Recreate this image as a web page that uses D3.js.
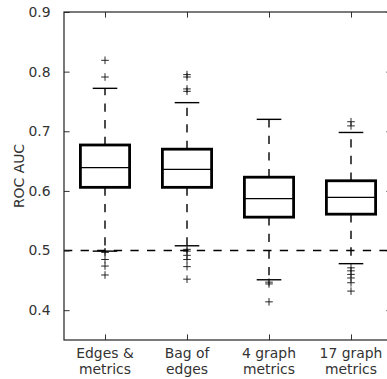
<!DOCTYPE html>
<html>
    <head>
        <meta charset="utf-8">
        <title> ROC AUC boxplot </title>
        <script src="https://d3js.org/d3.v7.min.js"></script>
        <style>
            body { margin: 0; background: #fff; }
            text { font-family: "DejaVu Sans", sans-serif; fill: #333; }
        </style>
    </head>

    <body>
        <div id="stage"></div>

        <script>
            // values
            var categories = [["Edges &", "metrics"], ["Bag of", "edges"], ["4 graph", "metrics"], ["17 graph", "metrics"]];
            var q1 = [0.606, 0.606, 0.556, 0.561];
            var median = [0.639, 0.636, 0.587, 0.589];
            var q3 = [0.677, 0.670, 0.623, 0.617];
            var whiskerLow = [0.499, 0.508, 0.451, 0.478];
            var whiskerHigh = [0.772, 0.748, 0.720, 0.698];
            var outliers = [
                [0.819, 0.791, 0.498, 0.497, 0.485, 0.474, 0.459],
                [0.795, 0.791, 0.771, 0.767, 0.502, 0.499, 0.492, 0.485, 0.473, 0.452],
                [0.447, 0.444, 0.414],
                [0.716, 0.709, 0.471, 0.466, 0.460, 0.454, 0.446, 0.432]
            ];
            var yTicks = [0.4, 0.5, 0.6, 0.7, 0.8, 0.9];
            var chanceLevel = 0.5;

            var width = 387, height = 379;
            // plot frame edges (right edge falls just outside the picture)
            var plotL = 64, plotR = 392, plotT = 12, plotB = 340;

            var svg = d3.select("#stage")
                .append("svg")
                    .attr("width", width)
                    .attr("height", height);

            var x = d3.scaleLinear().domain([0.5, 4.5]).range([plotL, plotR]);
            var y = d3.scaleLinear().domain([0.35, 0.9]).range([plotB, plotT]);
            var halfBox = 0.3, halfCap = 0.15;
            var dash = "8.3,8.3";

            var idx = d3.range(categories.length);

            var g = svg.append("g");
            idx.forEach(function(i) {
                var cx = x(i + 1);
                // whiskers (dashed, starting at the box edge)
                g.append("line")
                    .attr("x1", cx).attr("x2", cx)
                    .attr("y1", y(q3[i])).attr("y2", y(whiskerHigh[i]))
                    .attr("stroke", "#000").attr("stroke-width", 1.4)
                    .attr("stroke-dasharray", dash);
                g.append("line")
                    .attr("x1", cx).attr("x2", cx)
                    .attr("y1", y(q1[i])).attr("y2", y(whiskerLow[i]))
                    .attr("stroke", "#000").attr("stroke-width", 1.4)
                    .attr("stroke-dasharray", dash);
                // caps
                [whiskerLow[i], whiskerHigh[i]].forEach(function(v) {
                    g.append("line")
                        .attr("x1", x(i + 1 - halfCap)).attr("x2", x(i + 1 + halfCap))
                        .attr("y1", y(v)).attr("y2", y(v))
                        .attr("stroke", "#000").attr("stroke-width", 1.4);
                });
                // box
                g.append("rect")
                    .attr("x", x(i + 1 - halfBox))
                    .attr("y", y(q3[i]))
                    .attr("width", x(i + 1 + halfBox) - x(i + 1 - halfBox))
                    .attr("height", y(q1[i]) - y(q3[i]))
                    .attr("fill", "none")
                    .attr("stroke", "#000").attr("stroke-width", 2.8);
                // median
                g.append("line")
                    .attr("x1", x(i + 1 - halfBox)).attr("x2", x(i + 1 + halfBox))
                    .attr("y1", y(median[i])).attr("y2", y(median[i]))
                    .attr("stroke", "#000").attr("stroke-width", 1.3);
                // fliers as '+'
                outliers[i].forEach(function(v) {
                    g.append("path")
                        .attr("d", "M" + (cx - 3.8) + "," + y(v) + "H" + (cx + 3.8) +
                                   "M" + cx + "," + (y(v) - 3.8) + "V" + (y(v) + 3.8))
                        .attr("stroke", "#111").attr("stroke-width", 0.9);
                });
            });

            // chance line
            svg.append("line")
                .attr("x1", x(0.5)).attr("x2", x(4.5))
                .attr("y1", y(chanceLevel)).attr("y2", y(chanceLevel))
                .attr("stroke", "#000").attr("stroke-width", 1.4)
                .attr("stroke-dasharray", dash);

            // axes, ticks pointing inward on all four sides
            var tickLen = 5.6;
            var yAxis = svg.append("g")
                .attr("transform", "translate(" + plotL + ",0)")
                .call(d3.axisLeft(y).tickValues(yTicks).tickFormat(d3.format(".1f"))
                    .tickSize(-tickLen).tickPadding(13.5));
            yAxis.selectAll("text").style("font-size", "13.9px");

            svg.append("g")
                .attr("transform", "translate(" + plotR + ",0)")
                .call(d3.axisRight(y).tickValues(yTicks).tickFormat("").tickSize(-tickLen));

            svg.append("g")
                .attr("transform", "translate(0," + plotB + ")")
                .call(d3.axisBottom(x).tickValues([1, 2, 3, 4]).tickFormat("").tickSize(-tickLen));

            svg.append("g")
                .attr("transform", "translate(0," + plotT + ")")
                .call(d3.axisTop(x).tickValues([1, 2, 3, 4]).tickFormat("").tickSize(-tickLen));

            svg.selectAll(".domain").remove();
            svg.selectAll(".tick line").attr("stroke", "#333").attr("stroke-width", 1);

            // frame
            svg.append("rect")
                .attr("x", plotL).attr("y", plotT)
                .attr("width", plotR - plotL).attr("height", plotB - plotT)
                .attr("fill", "none").attr("stroke", "#222").attr("stroke-width", 1.2);

            // two-line category labels
            var labels = svg.append("g");
            idx.forEach(function(i) {
                var t = labels.append("text")
                    .attr("text-anchor", "middle")
                    .style("font-size", "13.9px");
                categories[i].forEach(function(line, k) {
                    t.append("tspan")
                        .attr("x", x(i + 1))
                        .attr("y", 357.5 + k * 16)
                        .text(line);
                });
            });

            // y label
            svg.append("text")
                .attr("transform", "translate(23.5," + ((plotT + plotB) / 2) + ") rotate(-90)")
                .attr("text-anchor", "middle")
                .style("font-size", "13.9px")
                .text("ROC AUC");
        </script>
    </body>
</html>
